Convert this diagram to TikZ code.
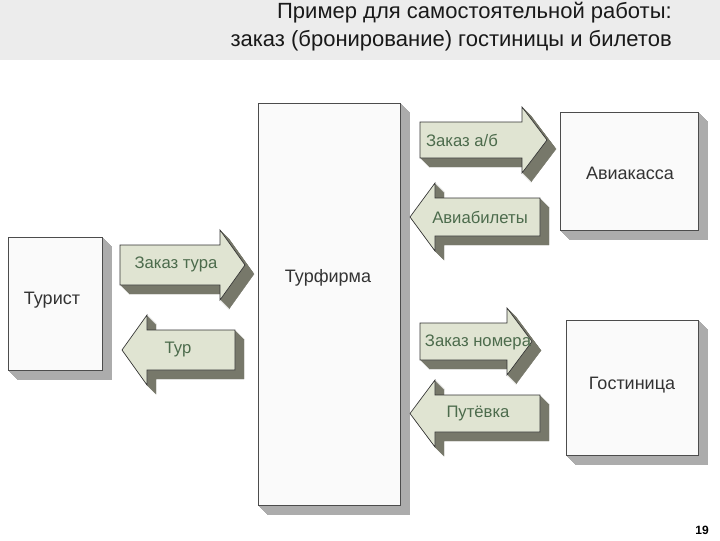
\documentclass[tikz,border=0pt]{standalone}
\usepackage{fontspec}
\setmainfont{Liberation Sans}
\definecolor{arrf}{HTML}{E0E4D2}
\definecolor{arrs}{HTML}{77786A}
\tikzset{
 boxside/.style={fill=gray!65,draw=gray!65,line width=0.3pt},
 boxfront/.style={fill=gray!4,draw=black!70,line width=0.5pt},
 arrside/.style={fill=arrs,draw=arrs,line width=0.3pt},
 arrfront/.style={fill=arrf,draw=black!80,line width=0.5pt},
 lbl/.style={font=\fontsize{12.5}{14}\selectfont,text=black!70!green!40!gray},
 blbl/.style={font=\fontsize{13.5}{15}\selectfont,text=black!80}
}
\newcommand\threed[3]{\foreach \d in {#3,...,1}{\begin{scope}[shift={(\d,\d)}]\filldraw[#2side] #1;\end{scope}}\filldraw[#2front] #1;}
\newcommand\rarr[4]{\threed{(#1,#3)--({#2-25},#3)--({#2-25},{#3-15})--(#2,{(#3+#4)/2})--({#2-25},{#4+15})--({#2-25},#4)--(#1,#4)--cycle}{arr}{9}}
\newcommand\larr[4]{\threed{(#2,#3)--({#1+25},#3)--({#1+25},{#3-15})--(#1,{(#3+#4)/2})--({#1+25},{#4+15})--({#1+25},#4)--(#2,#4)--cycle}{arr}{9}}
\newcommand\bx[4]{\threed{(#1,#3) rectangle (#2,#4)}{box}{9}}
\begin{document}
\begin{tikzpicture}[x=0.75pt,y=-0.75pt]
\useasboundingbox (0,0) rectangle (720,540);
\fill[gray!15] (0,0) rectangle (720,60);
\node[anchor=north east,align=right,font=\fontsize{16.5}{21}\selectfont,text=black!90,inner sep=0] (title) at (672,2) {Пример для самостоятельной работы:\\заказ (бронирование) гостиницы и билетов};
\bx{8}{102}{237}{370}
\bx{258}{400}{103}{505}
\bx{560}{698}{112}{230}
\bx{566}{698}{320}{455}
\node[blbl] (turist) at (52,300) {Турист};
\node[blbl] (turfirma) at (328,278) {Турфирма};
\node[blbl] (avia) at (630,173) {Авиакасса};
\node[blbl] (gost) at (632,385) {Гостиница};
\rarr{120}{245}{245}{285}
\larr{122}{235}{330}{370}
\rarr{420}{547}{122}{158}
\larr{410}{540}{198}{236}
\rarr{420}{532}{323}{360}
\larr{410}{540}{395}{432}
\node[lbl] (a1) at (176,264) {Заказ тура};
\node[lbl] (a2) at (178,349) {Тур};
\node[lbl] (a3) at (462,140) {Заказ а/б};
\node[lbl] (a4) at (480,217) {Авиабилеты};
\node[lbl] (a5) at (478,342) {Заказ номера};
\node[lbl] (a6) at (478,413) {Путёвка};
\node[font=\fontsize{9}{10}\selectfont\bfseries] (pg) at (702,530) {19};
\end{tikzpicture}
\end{document}
